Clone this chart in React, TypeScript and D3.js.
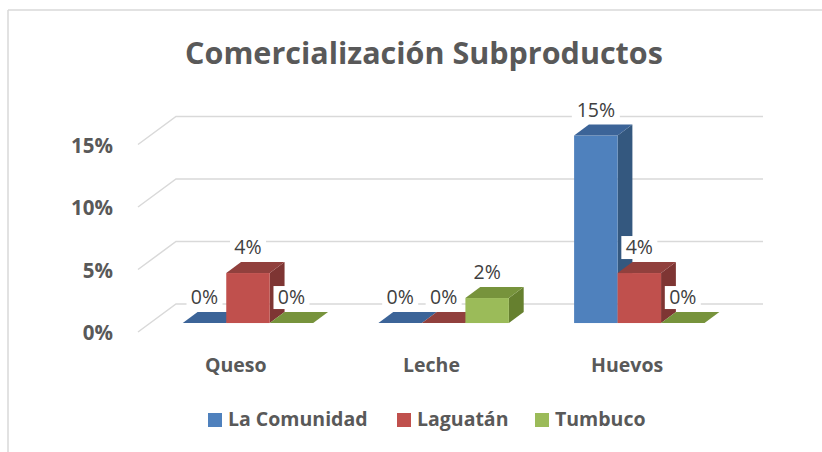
import React from "react";
import * as d3 from "d3";

const categories = ["Queso", "Leche", "Huevos"];
const seriesNames = ["La Comunidad", "Laguatán", "Tumbuco"];
const laComunidad = [0, 0, 0.15];
const laguatan = [0.04, 0, 0.04];
const tumbuco = [0, 0.02, 0];
const yTicks = [0, 0.05, 0.1, 0.15];
const seriesValues = [laComunidad, laguatan, tumbuco];

const frontColors = ["#4F81BD", "#C0504D", "#9BBB59"];
const topColors = ["#3C6498", "#91403D", "#77933C"];
const sideColors = ["#34587F", "#7E3533", "#66802F"];

const FONT = "'Open Sans', Lato, sans-serif";

export default function App() {
  const W = 822, H = 452;
  const frontLeft = 138, frontRight = 725, frontBase = 332;
  const D = { x: 38, y: -28 };
  const f0 = 0.32, f1 = 0.71;

  const x = d3.scaleBand<string>().domain(categories).range([frontLeft, frontRight]).paddingInner(0).paddingOuter(0);
  const inner = d3.scaleBand<string>().domain(seriesNames).range([0, x.bandwidth()]).paddingInner(0).paddingOuter(0.75);
  const h = d3.scaleLinear().domain([0, 0.15]).range([0, 187.5]);

  const backBase = frontBase + D.y;
  const backLeft = frontLeft + D.x;
  const backRight = frontRight + D.x;

  const bars: React.ReactNode[] = [];
  const labels: React.ReactNode[] = [];

  categories.forEach((cat, ci) => {
    seriesNames.forEach((s, si) => {
      const v = seriesValues[si][ci];
      const x0 = (x(cat) as number) + (inner(s) as number) + D.x * f0;
      const x1 = x0 + inner.bandwidth();
      const yb = frontBase + D.y * f0;
      const yt = yb - h(v);
      const dx = D.x * (f1 - f0), dy = D.y * (f1 - f0);
      const key = `${ci}-${si}`;
      bars.push(
        <g key={key}>
          {v > 0 && (
            <polygon
              points={`${x1},${yb} ${x1 + dx},${yb + dy} ${x1 + dx},${yt + dy} ${x1},${yt}`}
              fill={sideColors[si]}
            />
          )}
          {v > 0 && <rect x={x0} y={yt} width={x1 - x0} height={yb - yt} fill={frontColors[si]} />}
          <polygon
            points={`${x0},${yt} ${x1},${yt} ${x1 + dx},${yt + dy} ${x0 + dx},${yt + dy}`}
            fill={topColors[si]}
          />
        </g>
      );
      const label = `${Math.round(v * 100)}%`;
      const cx = (x0 + x1) / 2;
      const cy = yt - 26;
      const tw = label.length === 3 ? 40 : 28;
      labels.push(
        <g key={"l" + key}>
          <rect x={cx - tw / 2 - 4} y={cy - 11} width={tw + 8} height={23} fill="#FFFFFF" />
          <text x={cx} y={cy + 7} textAnchor="middle" fontFamily={FONT} fontSize={19.5} fill="#404040">
            {label}
          </text>
        </g>
      );
    });
  });

  const legendX = [208, 397, 535];

  return (
    <svg width={W} height={H} style={{ position: "absolute", left: 0, top: 0 }}>
      <rect x={0} y={0} width={W} height={H} fill="#FFFFFF" />
      <line x1={8} y1={10} x2={W} y2={10} stroke="#D9D9D9" strokeWidth={1.5} />
      <line x1={8} y1={10} x2={8} y2={H} stroke="#D9D9D9" strokeWidth={1.5} />
      <text x={424} y={64} textAnchor="middle" fontFamily={FONT} fontWeight={700} fontSize={30.5} fill="#595959">
        Comercialización Subproductos
      </text>
      {yTicks.map((t) => {
        const yf = frontBase - h(t);
        const yk = backBase - h(t);
        return (
          <g key={t}>
            <polyline
              points={`${frontLeft},${yf} ${backLeft},${yk} ${backRight},${yk}`}
              fill="none"
              stroke="#D9D9D9"
              strokeWidth={1.5}
            />
            <text x={113} y={yf + 8} textAnchor="end" fontFamily={FONT} fontWeight={700} fontSize={20.5} fill="#595959">
              {`${Math.round(t * 100)}%`}
            </text>
          </g>
        );
      })}
      {bars}
      {labels}
      {categories.map((c) => (
        <text key={c} x={(x(c) as number) + x.bandwidth() / 2} y={372} textAnchor="middle" fontFamily={FONT} fontWeight={700} fontSize={19.5} fill="#595959">
          {c}
        </text>
      ))}
      {seriesNames.map((s, i) => (
        <g key={s}>
          <rect x={legendX[i]} y={413} width={14} height={14} fill={frontColors[i]} />
          <text x={legendX[i] + 20} y={426} fontFamily={FONT} fontWeight={700} fontSize={19.5} fill="#595959">
            {s}
          </text>
        </g>
      ))}
    </svg>
  );
}
